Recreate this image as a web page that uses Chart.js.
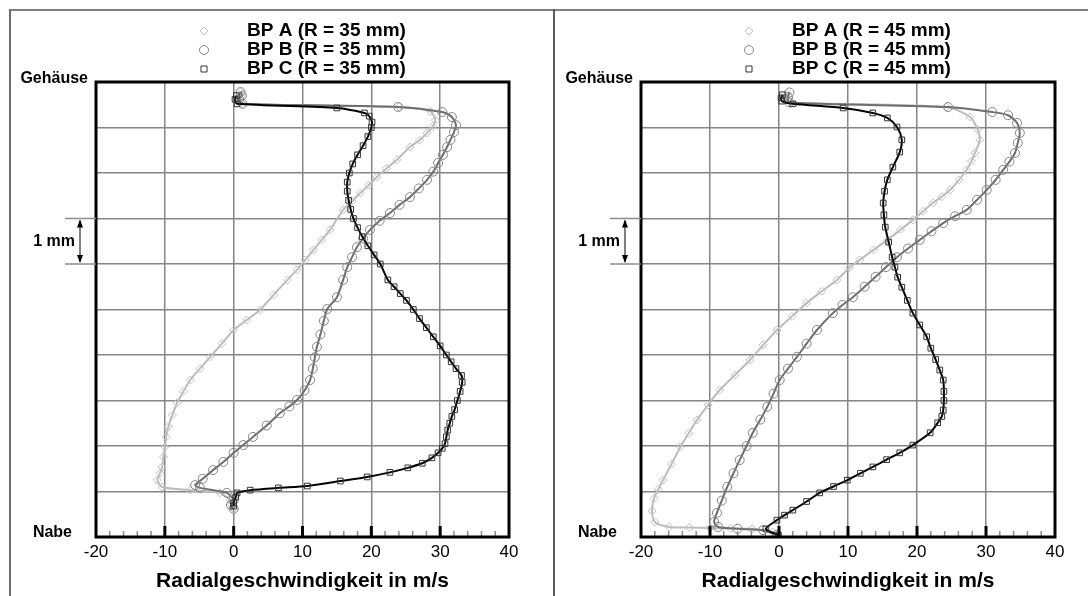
<!DOCTYPE html>
<html lang="de">
<head>
    <meta charset="UTF-8">
    <title>Radialgeschwindigkeit BP A/B/C</title>
    <script src="https://cdn.jsdelivr.net/npm/chart.js"></script>
    <style>
        body {
            margin: 0;
            background: #fff;
            font-family: 'Liberation Sans', Arial, sans-serif;
        }
        .frame {
            position: absolute;
            left: 9px;
            top: 9px;
            width: 1079px;
            height: 587px;
            box-sizing: border-box;
            border-top: 2px solid #808080;
            border-left: 2px solid #6a6a6a;
        }
        .divider {
            position: absolute;
            left: 553px;
            top: 9px;
            height: 587px;
            border-left: 2px solid #5a5a5a;
        }
        .panel {
            position: absolute;
            top: 0;
            height: 596px;
        }
        #p35 { left: 0; width: 553px; }
        #p45 { left: 553px; width: 535px; }
    </style>
</head>
<body>
    <div class="frame"></div>
    <div class="divider"></div>
    <div class="panel" id="p35"><canvas id="chart35"></canvas></div>
    <div class="panel" id="p45"><canvas id="chart45"></canvas></div>

    <script>
        // Radialgeschwindigkeit [m/s] vs. Position zwischen Nabe (0) und Gehäuse (10), Punkte als [v, h]
        const labels35 = ['BP A (R = 35 mm)', 'BP B (R = 35 mm)', 'BP C (R = 35 mm)'];
        const labels45 = ['BP A (R = 45 mm)', 'BP B (R = 45 mm)', 'BP C (R = 45 mm)'];

        const bpA35 = [[0, 0.62], [-0.3, 0.72], [-0.5, 0.81], [-2, 0.97], [-6.3, 1.03], [-10.4, 1.1], [-11.1, 1.25],
            [-10.7, 1.4], [-10.4, 1.54], [-10.2, 1.76], [-10, 1.98], [-9.8, 2.2], [-9.5, 2.42], [-8.9, 2.68], [-8.2, 2.95],
            [-7.3, 3.2], [-6.3, 3.45], [-4.9, 3.7], [-3.4, 3.96], [-1.7, 4.25], [0, 4.55], [1.9, 4.77], [3.8, 4.99],
            [5.8, 5.32], [7.8, 5.65], [9.2, 5.87], [10.4, 6.09], [11.6, 6.31], [12.8, 6.53], [14, 6.75], [15.9, 7.19],
            [17.2, 7.38], [18.4, 7.56], [19.6, 7.73], [20.8, 7.91], [22.2, 8.1], [23.7, 8.29], [25.6, 8.57], [27, 8.72],
            [28.1, 8.88], [28.9, 9.02], [29.3, 9.16], [28.6, 9.35], [24, 9.45], [1.3, 9.52], [0.8, 9.62], [1.2, 9.7], [1, 9.78]];
        const bpB35 = [[0, 0.62], [-0.4, 0.7], [0, 0.81], [-1, 0.97], [-4.9, 1.08], [-5.6, 1.14], [-4.5, 1.28], [-3, 1.47],
            [-1.5, 1.65], [0, 1.85], [1.4, 2.02], [2.8, 2.2], [4.8, 2.45], [6.7, 2.72], [8.1, 2.87], [9.2, 3.01], [10.3, 3.22],
            [11.1, 3.45], [11.5, 3.7], [11.8, 3.95], [12.1, 4.18], [12.6, 4.45], [13.1, 4.75], [13.6, 5.01], [15, 5.27],
            [15.9, 5.65], [16.5, 5.93], [17.2, 6.15], [17.9, 6.37], [18.8, 6.56], [19.8, 6.75], [21.2, 6.95], [22.7, 7.12],
            [24.1, 7.3], [25.6, 7.47], [26.9, 7.66], [28.1, 7.85], [29, 8.03], [29.7, 8.22], [30.4, 8.4], [31, 8.57],
            [31.5, 8.73], [32, 8.9], [32.3, 9.05], [31.7, 9.23], [30.3, 9.34], [23.9, 9.45], [1.3, 9.52], [0.8, 9.62],
            [1.2, 9.7], [1, 9.78]];
        const bpC35 = [[0, 0.68], [0, 0.75], [0.3, 0.88], [0.5, 0.97], [2.4, 1.03], [6.5, 1.08], [10.7, 1.12], [15.5, 1.23],
            [19.4, 1.32], [22.7, 1.42], [25.3, 1.52], [27.4, 1.62], [28.8, 1.74], [29.7, 1.85], [30.3, 1.95], [30.7, 2.05],
            [30.9, 2.2], [31.1, 2.35], [31.4, 2.5], [31.7, 2.65], [32.1, 2.8], [32.5, 3], [32.9, 3.2], [33.2, 3.4],
            [33.1, 3.55], [32.3, 3.7], [31.6, 3.85], [30.9, 4], [30, 4.2], [29, 4.4], [28, 4.6], [27, 4.8], [26.1, 5],
            [25.1, 5.2], [24.2, 5.35], [23.3, 5.5], [22.4, 5.65], [21.3, 6], [20.4, 6.2], [19.5, 6.4], [18.7, 6.6],
            [18, 6.8], [17.4, 7], [17, 7.2], [16.7, 7.4], [16.5, 7.6], [16.5, 7.8], [16.8, 8], [17.3, 8.2], [18, 8.4],
            [18.8, 8.6], [19.5, 8.8], [20, 9], [20.1, 9.12], [19.7, 9.25], [19, 9.32], [15, 9.43], [0.5, 9.52],
            [0.2, 9.62], [0.4, 9.7]];

        const bpA45 = [[-0.3, 0.05], [-0.9, 0.11], [-3.9, 0.18], [-7, 0.19], [-10, 0.2], [-13, 0.21], [-15.9, 0.22],
            [-18, 0.33], [-18.4, 0.57], [-18.1, 0.85], [-17.5, 1.05], [-16.8, 1.25], [-15.6, 1.6], [-14.3, 1.98],
            [-13.1, 2.28], [-11.9, 2.57], [-10.3, 2.9], [-8.6, 3.23], [-6.4, 3.56], [-4.2, 3.89], [-2.3, 4.22], [-0.3, 4.55],
            [1.9, 4.85], [4, 5.14], [6.2, 5.4], [8.4, 5.65], [10.2, 5.92], [11.7, 6.09], [13.7, 6.31], [15.7, 6.53],
            [17.6, 6.75], [19.4, 6.97], [20.9, 7.16], [22.3, 7.34], [23.6, 7.48], [24.8, 7.63], [26.1, 7.85], [27.2, 8.07],
            [27.9, 8.26], [28.4, 8.44], [29.1, 8.73], [28.8, 8.95], [27.7, 9.23], [24.3, 9.45], [1.5, 9.55], [1, 9.65],
            [1.2, 9.75]];
        const bpB45 = [[-0.3, 0.05], [-2.3, 0.15], [-6, 0.18], [-8.8, 0.22], [-9.4, 0.33], [-9, 0.53], [-8.3, 0.8],
            [-7.5, 1.1], [-6.6, 1.4], [-5.7, 1.69], [-4.7, 2], [-3.8, 2.29], [-2.7, 2.58], [-1.7, 2.86], [-0.8, 3.15],
            [0.1, 3.45], [1.3, 3.7], [2.6, 3.96], [4, 4.25], [5.5, 4.55], [7.8, 4.92], [9.2, 5.1], [10.7, 5.27], [12.4, 5.5],
            [14, 5.72], [15.5, 5.93], [17.1, 6.15], [18.7, 6.34], [20.4, 6.53], [22.1, 6.72], [23.8, 6.9], [25.5, 7.05],
            [27.2, 7.19], [28.7, 7.41], [30.1, 7.63], [31.4, 7.85], [32.5, 8.07], [33.4, 8.25], [34.2, 8.44], [34.6, 8.66],
            [34.9, 8.88], [34.5, 9.1], [33.2, 9.27], [30.9, 9.34], [24.5, 9.45], [1.5, 9.55], [1.3, 9.67], [1.5, 9.77]];
        const bpC45 = [[-0.1, 0.04], [-1.9, 0.18], [-0.3, 0.37], [0.8, 0.48], [2, 0.59], [4, 0.78], [5.9, 0.97],
            [7.9, 1.11], [9.9, 1.25], [11.8, 1.4], [13.6, 1.54], [15.6, 1.7], [17.5, 1.85], [19.4, 2.02], [21.9, 2.29],
            [23, 2.51], [23.6, 2.65], [23.8, 2.79], [23.9, 3], [23.9, 3.2], [23.8, 3.45], [23.3, 3.67], [22.7, 3.9],
            [22, 4.15], [21.4, 4.4], [20.4, 4.66], [19.4, 4.92], [18.6, 5.2], [17.8, 5.49], [17.2, 5.71], [16.8, 5.93],
            [16.4, 6.15], [15.9, 6.48], [15.4, 6.81], [15.2, 7.08], [15.1, 7.34], [15.3, 7.6], [15.7, 7.85], [16.5, 8.13],
            [17.5, 8.46], [17.8, 8.73], [17.1, 9.01], [15.7, 9.21], [13.6, 9.32], [9.3, 9.43], [2, 9.52], [0.4, 9.58],
            [0.3, 9.65], [0.5, 9.72]];

        const xTicks = [-20, -10, 0, 10, 20, 30, 40];
        const xMinorTicks = [-18, -16, -14, -12, -8, -6, -4, -2, 2, 4, 6, 8, 12, 14, 16, 18, 22, 24, 26, 28, 32, 34, 36, 38];
        const mmMarker = [6, 7];   // "1 mm" Pfeil zwischen diesen Gitterlinien

        const FONT = "'Liberation Sans', Arial, sans-serif";
        const seriesStyle = [
            { line: '#bcbcbc', point: '#c2c2c2', shape: 'rectRot', r: 4, order: 2 },
            { line: '#6e6e6e', point: '#858585', shape: 'circle', r: 4.5, order: 1 },
            { line: '#000000', point: '#333333', shape: 'rect', r: 4, order: 0 }
        ];

        function drawMark(ctx, shape, x, y, r, color) {
            ctx.save();
            ctx.strokeStyle = color;
            ctx.lineWidth = 1;
            ctx.beginPath();
            if (shape === 'circle') {
                ctx.arc(x, y, r, 0, Math.PI * 2);
            } else if (shape === 'rectRot') {
                ctx.moveTo(x, y - r); ctx.lineTo(x + r, y); ctx.lineTo(x, y + r); ctx.lineTo(x - r, y); ctx.closePath();
            } else {
                ctx.rect(x - r * 0.75, y - r * 0.75, r * 1.5, r * 1.5);
            }
            ctx.stroke();
            ctx.restore();
        }

        const decor = {
            id: 'decor',
            afterDraw(chart) {
                const { ctx, chartArea: a, scales: { x, y } } = chart;
                ctx.save();

                // kleine Striche nach innen an der unteren Achse
                ctx.strokeStyle = '#8c8c8c';
                ctx.lineWidth = 1.5;
                xMinorTicks.forEach(v => {
                    const px = x.getPixelForValue(v);
                    ctx.beginPath(); ctx.moveTo(px, a.bottom); ctx.lineTo(px, a.bottom - 6); ctx.stroke();
                });
                ctx.strokeStyle = '#000';
                ctx.lineWidth = 3;
                xTicks.slice(1, -1).forEach(v => {
                    const px = x.getPixelForValue(v);
                    ctx.beginPath(); ctx.moveTo(px, a.bottom); ctx.lineTo(px, a.bottom - 11); ctx.stroke();
                });

                // Rahmen
                ctx.lineWidth = 3;
                ctx.strokeRect(a.left, a.top, a.right - a.left, a.bottom - a.top);

                // Gehäuse / Nabe
                ctx.fillStyle = '#000';
                ctx.font = 'bold 16px ' + FONT;
                ctx.textAlign = 'right';
                ctx.textBaseline = 'middle';
                ctx.fillText('Gehäuse', a.left - 8, a.top - 3);
                ctx.fillText('Nabe', a.left - 24, a.bottom - 4);

                // 1 mm Maßpfeil
                const yLo = y.getPixelForValue(mmMarker[0]);
                const yHi = y.getPixelForValue(mmMarker[1]);
                ctx.strokeStyle = '#8c8c8c';
                ctx.lineWidth = 1.5;
                [yLo, yHi].forEach(py => {
                    ctx.beginPath(); ctx.moveTo(a.left - 31, py); ctx.lineTo(a.left, py); ctx.stroke();
                });
                const ax = a.left - 16;
                ctx.strokeStyle = '#000';
                ctx.lineWidth = 1;
                ctx.beginPath(); ctx.moveTo(ax, yHi + 2); ctx.lineTo(ax, yLo - 2); ctx.stroke();
                ctx.beginPath();
                ctx.moveTo(ax, yHi + 1); ctx.lineTo(ax - 3, yHi + 9); ctx.lineTo(ax + 3, yHi + 9); ctx.closePath();
                ctx.moveTo(ax, yLo - 1); ctx.lineTo(ax - 3, yLo - 9); ctx.lineTo(ax + 3, yLo - 9); ctx.closePath();
                ctx.fill();
                ctx.fillText('1 mm', a.left - 21, (yLo + yHi) / 2);

                // Legende
                ctx.font = 'bold 19px ' + FONT;
                ctx.textAlign = 'left';
                chart.data.datasets.forEach((ds, i) => {
                    const st = seriesStyle[i];
                    const ly = 31 + 19 * i;
                    drawMark(ctx, st.shape, a.left + 108, ly, st.r, st.point);
                    ctx.fillStyle = '#000';
                    ctx.fillText(ds.label, a.left + 151, ly);
                });
                ctx.restore();
            }
        };

        function makeChart(canvasId, labels, series, padLeft, padRight) {
            const datasets = series.map((pts, i) => ({
                label: labels[i],
                data: pts.map(p => ({ x: p[0], y: p[1] })),
                showLine: true,
                borderColor: seriesStyle[i].line,
                borderWidth: 2,
                tension: 0.25,
                pointStyle: seriesStyle[i].shape,
                pointRadius: seriesStyle[i].r,
                pointBorderWidth: 1,
                pointBorderColor: seriesStyle[i].point,
                pointBackgroundColor: 'rgba(0,0,0,0)',
                order: seriesStyle[i].order
            }));

            return new Chart(document.getElementById(canvasId), {
                type: 'scatter',
                data: { datasets: datasets },
                options: {
                    responsive: true,
                    maintainAspectRatio: false,
                    animation: false,
                    layout: { padding: { left: padLeft, right: padRight, top: 82, bottom: 0 } },
                    plugins: {
                        legend: { display: false },
                        tooltip: { enabled: false }
                    },
                    scales: {
                        x: {
                            type: 'linear',
                            min: -20,
                            max: 40,
                            afterFit: s => { s.height = 59; },
                            afterBuildTicks: s => { s.ticks = xTicks.map(v => ({ value: v })); },
                            border: { display: false },
                            grid: { color: '#858585', lineWidth: 1.5, drawTicks: false },
                            ticks: { color: '#000', padding: 5, font: { family: FONT, size: 17 } },
                            title: {
                                display: true,
                                text: 'Radialgeschwindigkeit in m/s',
                                color: '#000',
                                padding: { top: 0, bottom: 2 },
                                font: { family: FONT, size: 21, weight: 'bold' }
                            }
                        },
                        y: {
                            type: 'linear',
                            min: 0,
                            max: 10,
                            afterFit: s => { s.width = 0; },
                            border: { display: false },
                            grid: { color: '#858585', lineWidth: 1.5, drawTicks: false },
                            ticks: { display: false, stepSize: 1 }
                        }
                    }
                },
                plugins: [decor]
            });
        }

        makeChart('chart35', labels35, [bpA35, bpB35, bpC35], 96, 44);
        makeChart('chart45', labels45, [bpA45, bpB45, bpC45], 88, 33);
    </script>
</body>
</html>
